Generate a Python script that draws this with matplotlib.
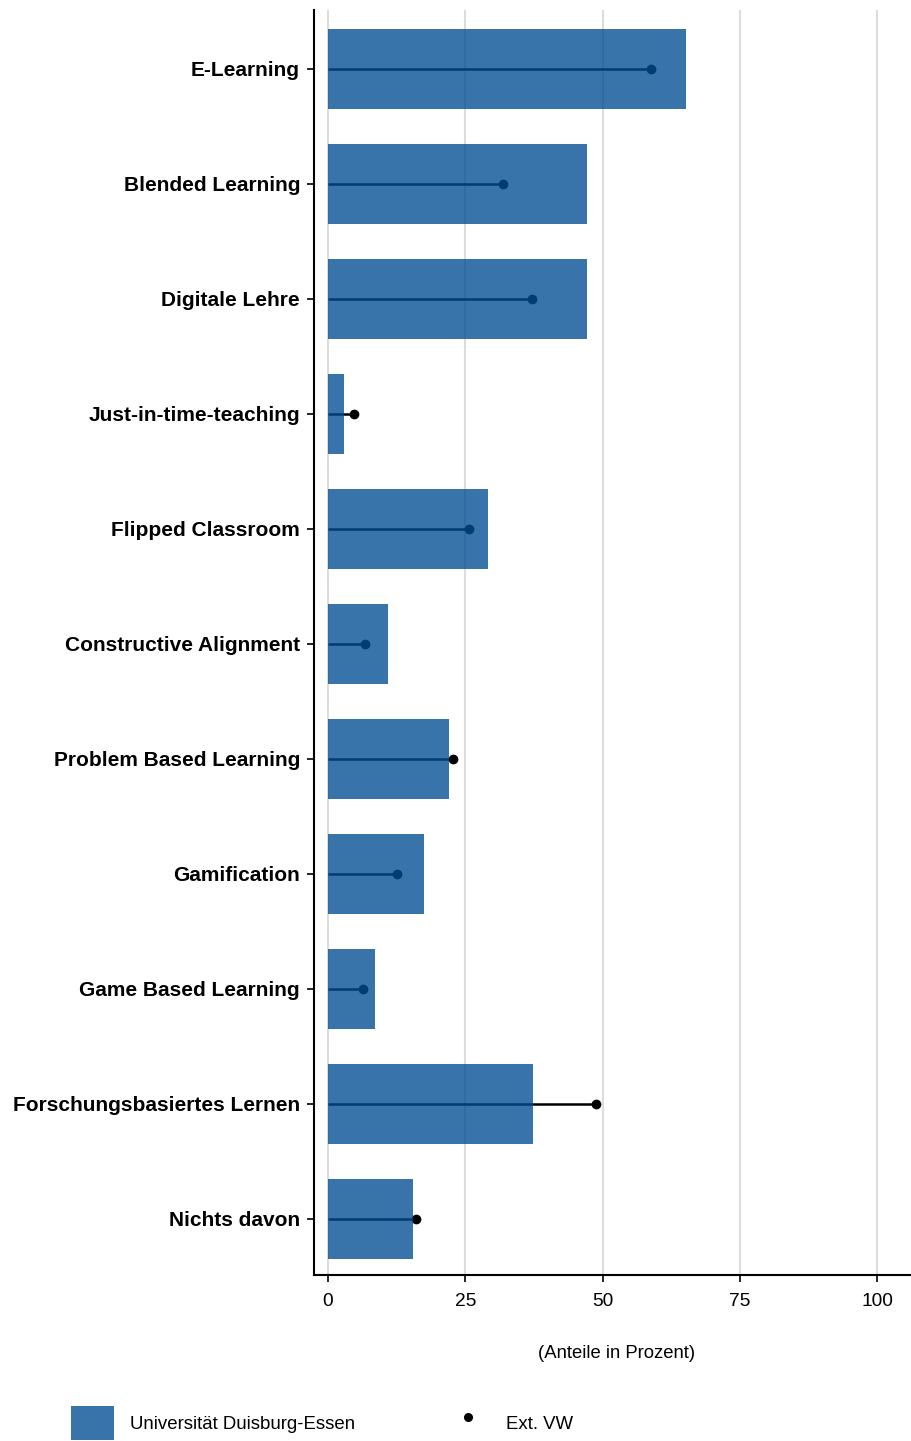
import matplotlib
matplotlib.use("Agg")
import matplotlib.pyplot as plt
from matplotlib.patches import Patch
from matplotlib.lines import Line2D
import numpy as np

plt.rcParams['font.family'] = ['Liberation Sans', 'DejaVu Sans']

kategorien = ["E-Learning", "Blended Learning", "Digitale Lehre",
              "Just-in-time-teaching", "Flipped Classroom",
              "Constructive Alignment", "Problem Based Learning",
              "Gamification", "Game Based Learning",
              "Forschungsbasiertes Lernen", "Nichts davon"]
ude = [65.2, 47.2, 47.2, 2.9, 29.1, 10.9, 22.0, 17.5, 8.6, 37.3, 15.5]
ext_vw = [58.8, 31.9, 37.2, 4.7, 25.7, 6.7, 22.8, 12.6, 6.4, 48.8, 16.0]
xticks = [0, 25, 50, 75, 100]

fig = plt.figure(figsize=(9.12, 14.41), dpi=100)
ax = fig.add_axes([314/912, 166/1441, (920-314)/912, (1431-166)/1441])

y = np.arange(len(kategorien))[::-1]

# lollipop for Ext. VW, under the semi-transparent bars
ax.hlines(y, 0, ext_vw, color="black", lw=1.8, zorder=2)
ax.plot(ext_vw, y, "o", color="black", ms=6, zorder=2)
ax.barh(y, ude, height=0.7, color="#004c93", alpha=0.78, zorder=3)

ax.set_xlim(-2.55, 107.8)
ax.set_ylim(-0.487, 10.513)
ax.set_xticks(xticks)
ax.set_yticks(y)
ax.set_yticklabels(kategorien, fontsize=15, fontweight="bold")
ax.tick_params(axis="x", labelsize=13.8, length=5, width=1.2, pad=8)
ax.tick_params(axis="y", length=5, width=1.2, pad=5)
ax.xaxis.grid(True, color="#dcdcdc", lw=1.5, zorder=0)
ax.set_axisbelow(True)
for s in ["top", "right"]:
    ax.spines[s].set_visible(False)
for s in ["left", "bottom"]:
    ax.spines[s].set_linewidth(1.5)
ax.set_xlabel("(Anteile in Prozent)", fontsize=13.3, labelpad=25)

handles = [Patch(facecolor="#004c93", alpha=0.78, edgecolor="none"),
           Line2D([], [], marker="o", color="black", ls="none", ms=5.5)]
fig.legend(handles, ["Universität Duisburg-Essen", "Ext. VW"],
           loc="center left", bbox_to_anchor=(54/912, 0.0125), ncol=2,
           frameon=False, fontsize=13.4, handlelength=2.3, handleheight=2.5,
           handletextpad=0.9, columnspacing=4.9)

fig.savefig("out.png", dpi=100)
